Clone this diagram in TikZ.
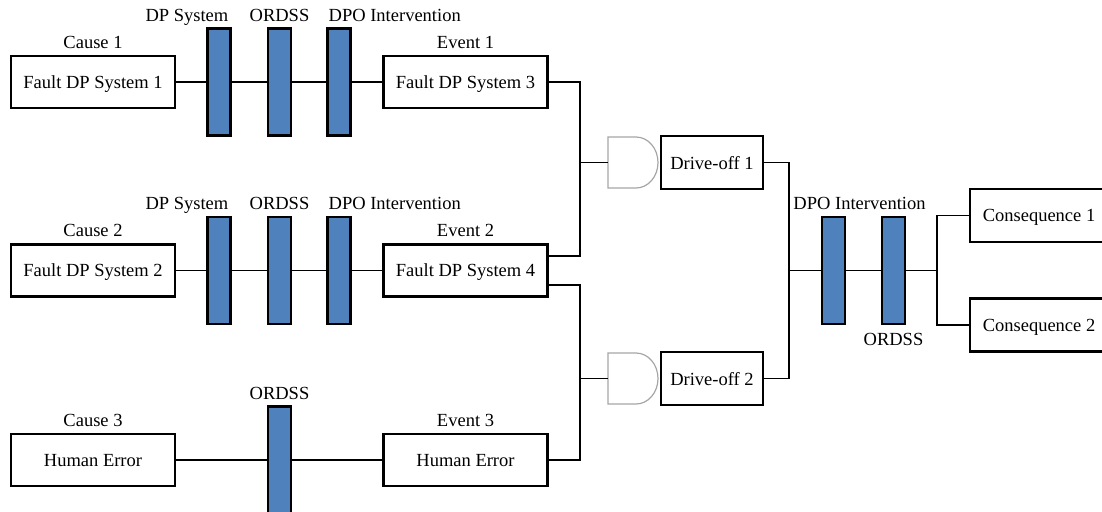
\documentclass[tikz,border=0pt]{standalone}
\usepackage{fontspec}
\setmainfont{Liberation Serif}
\usetikzlibrary{positioning}
\definecolor{barblue}{HTML}{4F81BD}
\tikzset{%
 box/.style={draw, line width=1.3pt, minimum width=82pt, minimum height=26pt, inner sep=0pt, text depth=0pt},
 barrier/.style={draw, fill=barblue, line width=1.2pt, minimum width=11.5pt, minimum height=53.5pt, inner sep=0pt},
 lbl/.style={inner sep=0pt},
 link/.style={line width=.9pt},
 gate/.style={draw=black!35, line width=.6pt}
}

\begin{document}
\begin{tikzpicture}[x=.5pt, y=-.5pt, font=\fontsize{9.25}{11}\selectfont]
 \useasboundingbox (0,0) rectangle (1102,511);
 \node [box] (c1) at (93,82) {Fault DP System 1};
 \node [box] (c2) at (93,270.5) {Fault DP System 2};
 \node [box] (c3) at (93,460) {Human Error};
 \node [box] (e1) at (465.5,82) {Fault DP System 3};
 \node [box] (e2) at (465.5,270.5) {Fault DP System 4};
 \node [box] (e3) at (465.5,460) {Human Error};
 \foreach \r in {1,2,3} {
  \node [lbl, above=3pt of c\r] (tc\r) {Cause \r};
  \node [lbl, above=3pt of e\r] (te\r) {Event \r};
 }
 \foreach \r/\y in {1/82, 2/270.5} {
  \foreach \i/\x in {1/219, 2/279.5, 3/339}
   \node [barrier] (b\r\i) at (\x,\y) {};
  \node [lbl, anchor=base east] (tb\r1) at ([xshift=-1.5pt, yshift=3pt]b\r1.north east) {DP System};
  \node [lbl, anchor=base] (tb\r2) at ([yshift=3pt]b\r2.north) {ORDSS};
  \node [lbl, anchor=base west] (tb\r3) at ([xshift=1pt, yshift=3pt]b\r3.north west) {DPO Intervention};
  \draw [link] (c\r) -- (b\r1) -- (b\r2) -- (b\r3) -- (e\r);
 }
 \node [barrier] (b31) at (279.5,460) {};
 \node [lbl, anchor=base] (tb31) at ([yshift=3pt]b31.north) {ORDSS};
 \draw [link] (c3) -- (b31) -- (e3);

 \node [box, minimum width=51pt, minimum height=26.5pt] (d1) at (712,162.5) {Drive-off 1};
 \node [box, minimum width=51pt, minimum height=26.5pt] (d2) at (712,378.5) {Drive-off 2};
 \coordinate (g1) at (608,162.5);
 \coordinate (g2) at (608,378.5);
 \foreach \g in {g1, g2}
  \draw [gate] (\g) -- ++(0,-25.5) -- ++(28,0) arc [start angle=-90, end angle=90, x radius=22, y radius=25.5] -- ++(-28,0) -- cycle;

 \coordinate (j1) at (580,256);
 \coordinate (j2) at (580,285);
 \draw [link] (e1.east) -| (j1) -- (e2.east |- j1);
 \draw [link] (e2.east |- j2) -- (j2) |- (e3.east);
 \draw [link] (j1 |- g1) -- (g1);
 \draw [link] (j2 |- g2) -- (g2);

 \node [barrier] (r1) at (833.5,270.5) {};
 \node [barrier] (r2) at (893.5,270.5) {};
 \node [lbl, anchor=base] (tr1) at ([xshift=13pt, yshift=3pt]r1.north) {DPO Intervention};
 \node [lbl, below=4pt of r2] (tr2) {ORDSS};
 \node [box, minimum width=69pt, minimum height=26.5pt] (q1) at (1039,215.5) {Consequence 1};
 \node [box, minimum width=69pt, minimum height=26.5pt] (q2) at (1039,325) {Consequence 2};

 \coordinate (j3) at (789,270.5);
 \coordinate (j4) at (937,270.5);
 \draw [link] (d1.east) -| (j3) |- (d2.east);
 \draw [link] (j3) -- (r1) -- (r2) -- (j4);
 \draw [link] (q1.west) -| (j4) |- (q2.west);
\end{tikzpicture}
\end{document}
